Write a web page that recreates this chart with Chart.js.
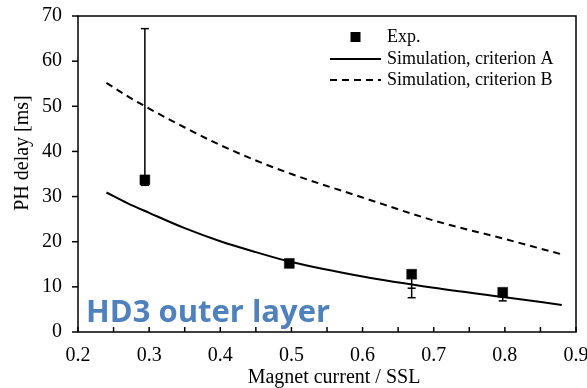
<!DOCTYPE html>
<html>
<head>
<meta charset="utf-8">
<script src="https://cdn.jsdelivr.net/npm/chart.js@4.4.1/dist/chart.umd.min.js"></script>
<style>
  html, body { margin: 0; padding: 0; background: #fff; }
  #wrap { width: 587px; height: 388px; position: relative; }
</style>
</head>
<body>
<div id="wrap"><canvas id="chart"></canvas></div>
<script>
// measured points with their error bar ends
const expX = [0.294, 0.497, 0.669, 0.797];
const expY = [33.7, 15.2, 12.8, 8.8];
const expErrLow = [32.5, 15.2, 7.6, 6.9];
const expErrHigh = [67.2, 15.2, 9.7, 8.8];

// simulation curves
const simX = [0.24, 0.27, 0.30, 0.35, 0.40, 0.45, 0.50, 0.60, 0.70, 0.80, 0.88];
const simA = [30.9, 28.5, 26.4, 23.0, 20.1, 17.7, 15.5, 12.3, 9.8, 7.7, 6.0];
const simB = [55.2, 52.2, 49.5, 45.3, 41.4, 38.0, 35.0, 29.8, 24.7, 20.6, 17.2];

const seriesNames = ['Exp.', 'Simulation, criterion A', 'Simulation, criterion B'];
const xTitle = 'Magnet current / SSL';
const yTitle = 'PH delay [ms]';
const panelLabel = 'HD3 outer layer';

const SERIF = '"Liberation Serif", "Times New Roman", serif';

const toPoints = (xs, ys) => xs.map((v, i) => ({ x: v, y: ys[i] }));

const decor = {
  id: 'decor',
  beforeDatasetsDraw(chart) {
    const { ctx, scales: { x, y } } = chart;
    ctx.save();
    ctx.strokeStyle = '#000';
    ctx.lineWidth = 1.5;
    expX.forEach((v, i) => {
      const px = x.getPixelForValue(v);
      const top = y.getPixelForValue(Math.max(expErrHigh[i], expY[i]));
      const bot = y.getPixelForValue(Math.min(expErrLow[i], expY[i]));
      ctx.beginPath();
      ctx.moveTo(px, top);
      ctx.lineTo(px, bot);
      ctx.stroke();
      [expErrLow[i], expErrHigh[i]].forEach(e => {
        const py = y.getPixelForValue(e);
        ctx.beginPath();
        ctx.moveTo(px - 4, py);
        ctx.lineTo(px + 4, py);
        ctx.stroke();
      });
    });
    ctx.restore();
  },
  afterDraw(chart) {
    const { ctx, chartArea: a, scales: { x, y } } = chart;
    ctx.save();
    ctx.strokeStyle = '#000';
    ctx.lineWidth = 1.5;
    ctx.strokeRect(a.left, a.top, a.width, a.height);

    // x ticks point inward, every 0.05
    for (let k = 0; k <= 14; k++) {
      const px = x.getPixelForValue(0.2 + k * 0.05);
      ctx.beginPath();
      ctx.moveTo(px, a.bottom);
      ctx.lineTo(px, a.bottom - 5);
      ctx.stroke();
    }
    // y ticks point outward
    y.ticks.forEach(t => {
      const py = y.getPixelForValue(t.value);
      ctx.beginPath();
      ctx.moveTo(a.left - 6, py);
      ctx.lineTo(a.left, py);
      ctx.stroke();
    });

    // axis titles (placed like the original, a bit off-centre)
    ctx.fillStyle = '#000';
    ctx.font = '20px ' + SERIF;
    ctx.textAlign = 'center';
    ctx.textBaseline = 'alphabetic';
    ctx.fillText(xTitle, 334, 383);
    ctx.save();
    ctx.translate(23, 153);
    ctx.rotate(-Math.PI / 2);
    ctx.textBaseline = 'middle';
    ctx.fillText(yTitle, 0, 0);
    ctx.restore();

    // legend inside the plot
    const lx = 330, lw = 51, tx = 387;
    const rows = [37, 59, 80];
    ctx.fillRect(lx + lw / 2 - 5, rows[0] - 5, 10, 10);
    ctx.lineWidth = 2;
    ctx.beginPath();
    ctx.moveTo(lx, rows[1]);
    ctx.lineTo(lx + lw, rows[1]);
    ctx.stroke();
    ctx.setLineDash([7, 5]);
    ctx.beginPath();
    ctx.moveTo(lx, rows[2]);
    ctx.lineTo(lx + lw, rows[2]);
    ctx.stroke();
    ctx.setLineDash([]);
    ctx.font = '18px ' + SERIF;
    ctx.textBaseline = 'middle';
    ctx.textAlign = 'left';
    seriesNames.forEach((s, i) => ctx.fillText(s, tx, rows[i]));

    // panel label
    ctx.font = 'bold 31px "Open Sans", sans-serif';
    ctx.fillStyle = '#4F81BD';
    ctx.textBaseline = 'alphabetic';
    ctx.fillText(panelLabel, 86, 322);
    ctx.restore();
  }
};

new Chart(document.getElementById('chart'), {
  type: 'scatter',
  data: {
    datasets: [
      {
        label: seriesNames[0],
        data: toPoints(expX, expY),
        pointStyle: 'rect',
        pointRadius: 7,
        borderWidth: 0.5,
        backgroundColor: '#000',
        borderColor: '#000',
        showLine: false,
        order: 0
      },
      {
        label: seriesNames[1],
        data: toPoints(simX, simA),
        showLine: true,
        pointRadius: 0,
        borderColor: '#000',
        borderWidth: 2,
        cubicInterpolationMode: 'monotone',
        order: 1
      },
      {
        label: seriesNames[2],
        data: toPoints(simX, simB),
        showLine: true,
        pointRadius: 0,
        borderColor: '#000',
        borderWidth: 2,
        borderDash: [7, 5],
        cubicInterpolationMode: 'monotone',
        order: 2
      }
    ]
  },
  options: {
    responsive: true,
    maintainAspectRatio: false,
    animation: false,
    layout: { padding: { left: 0, top: 16, right: 11, bottom: 0 } },
    plugins: { legend: { display: false }, tooltip: { enabled: false } },
    scales: {
      x: {
        type: 'linear',
        min: 0.2,
        max: 0.9,
        grid: { display: false, drawTicks: false },
        border: { display: false },
        ticks: {
          stepSize: 0.1,
          padding: 12,
          color: '#000',
          font: { family: SERIF, size: 20 },
          callback: v => v.toFixed(1)
        },
        afterFit: s => {
          s.height = 56;
          s.paddingLeft = 0;
          s.paddingRight = 0;
        }
      },
      y: {
        min: 0,
        max: 70,
        grid: { display: false, drawTicks: false },
        border: { display: false },
        ticks: {
          stepSize: 10,
          padding: 16,
          color: '#000',
          font: { family: SERIF, size: 20 }
        },
        afterFit: s => {
          s.width = 78;
          s.paddingTop = 0;
          s.paddingBottom = 0;
        }
      }
    }
  },
  plugins: [decor]
});
</script>
</body>
</html>
